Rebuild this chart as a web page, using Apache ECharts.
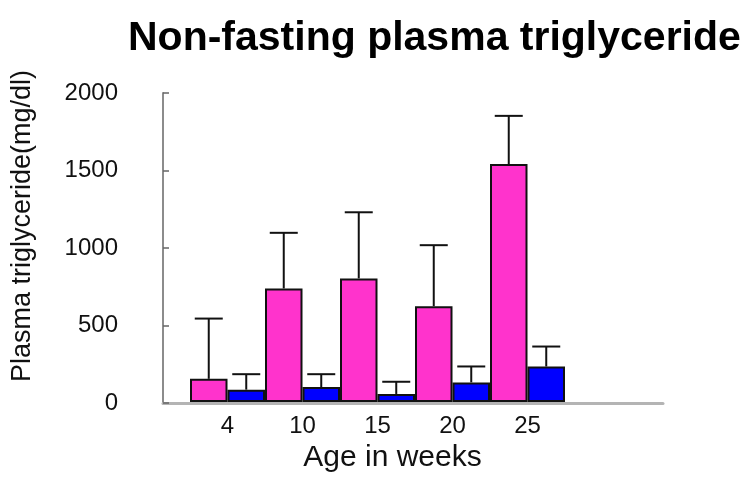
<!DOCTYPE html>
<html>
<head>
<meta charset="utf-8">
<script src="https://cdn.jsdelivr.net/npm/echarts@6/dist/echarts.min.js"></script>
<style>
  html, body { margin: 0; padding: 0; background: #fff; }
  #chart { width: 747px; height: 478px; }
</style>
</head>
<body>
<div id="chart"></div>
<script>
const FONT = "Liberation Sans";

// age groups (weeks)
const categories = ["4", "10", "15", "20", "25"];
// mean plasma triglyceride, mg/dl
const pinkMean = [150, 735, 800, 620, 1540];
const blueMean = [80, 97, 52, 127, 230];
// upper error (SD), mg/dl
const pinkSD = [390, 360, 428, 395, 312];
const blueSD = [100, 83, 79, 103, 129];

const yTicks = [0, 500, 1000, 1500, 2000];

function errorSeries(name, means, sds, side) {
  return {
    name,
    type: "custom",
    xAxisIndex: 1,
    yAxisIndex: 1,
    z: 5,
    data: means.map((m, i) => [i, m, m + sds[i]]),
    renderItem(params, api) {
      const i = api.value(0);
      const lo = api.coord([i, api.value(1)]);
      const hi = api.coord([i, api.value(2)]);
      const band = api.size([1, 0])[0];
      const x = lo[0] + side * band / 4;
      const cap = 14;
      const style = { stroke: "#111", lineWidth: 2 };
      return {
        type: "group",
        children: [
          { type: "line", shape: { x1: x, y1: lo[1], x2: x, y2: hi[1] }, style },
          { type: "line", shape: { x1: x - cap, y1: hi[1], x2: x + cap, y2: hi[1] }, style }
        ]
      };
    }
  };
}

const chart = echarts.init(document.getElementById("chart"));
chart.setOption({
  animation: false,
  textStyle: { fontFamily: FONT },
  title: {
    text: "Non-fasting plasma triglyceride",
    left: 123,
    top: 13,
    textStyle: { fontFamily: FONT, fontSize: 41, fontWeight: "bold", color: "#000" }
  },
  grid: [
    { left: 163, right: 84, top: 93, bottom: 75 },
    { left: 190, right: 182, top: 93, bottom: 75 }
  ],
  xAxis: [
    {
      gridIndex: 0,
      type: "category",
      data: [""],
      axisLine: { lineStyle: { color: "#b4b4b4", width: 3 } },
      axisTick: { show: false },
      axisLabel: { show: false }
    },
    {
      gridIndex: 1,
      type: "category",
      data: categories,
      axisLine: { show: false },
      axisTick: { show: false },
      axisLabel: { color: "#111", fontSize: 24, margin: 12, fontFamily: FONT },
      name: "Age in weeks",
      nameLocation: "middle",
      nameGap: 41,
      nameTextStyle: { color: "#111", fontSize: 30, fontFamily: FONT, padding: [0, 0, 0, 30] }
    }
  ],
  yAxis: [
    {
      gridIndex: 0,
      type: "value",
      min: yTicks[0],
      max: yTicks[yTicks.length - 1],
      interval: 500,
      axisLine: { show: true, lineStyle: { color: "#8c8c8c", width: 2 } },
      axisTick: { show: true, inside: true, length: 6, lineStyle: { color: "#666", width: 1.5 } },
      axisLabel: {
        color: "#111",
        fontSize: 24,
        margin: 45,
        fontFamily: FONT,
        formatter: v => String(v)
      },
      splitLine: { show: false }
    },
    {
      gridIndex: 1,
      type: "value",
      min: 0,
      max: 2000,
      show: false,
      splitLine: { show: false }
    }
  ],
  graphic: [
    {
      type: "text",
      x: 23,
      y: 226,
      rotation: Math.PI / 2,
      style: {
        text: "Plasma triglyceride(mg/dl)",
        fontFamily: FONT,
        fontSize: 27,
        fill: "#111",
        align: "center",
        verticalAlign: "middle"
      }
    }
  ],
  series: [
    {
      name: "pink",
      type: "bar",
      xAxisIndex: 1,
      yAxisIndex: 1,
      data: pinkMean,
      barGap: "0%",
      barCategoryGap: "0%",
      itemStyle: { color: "#ff33cc", borderColor: "#111", borderWidth: 2 }
    },
    {
      name: "blue",
      type: "bar",
      xAxisIndex: 1,
      yAxisIndex: 1,
      data: blueMean,
      barGap: "0%",
      barCategoryGap: "0%",
      itemStyle: { color: "#0000ff", borderColor: "#111", borderWidth: 2 }
    },
    errorSeries("pink SD", pinkMean, pinkSD, -1),
    errorSeries("blue SD", blueMean, blueSD, 1)
  ]
});
</script>
</body>
</html>
